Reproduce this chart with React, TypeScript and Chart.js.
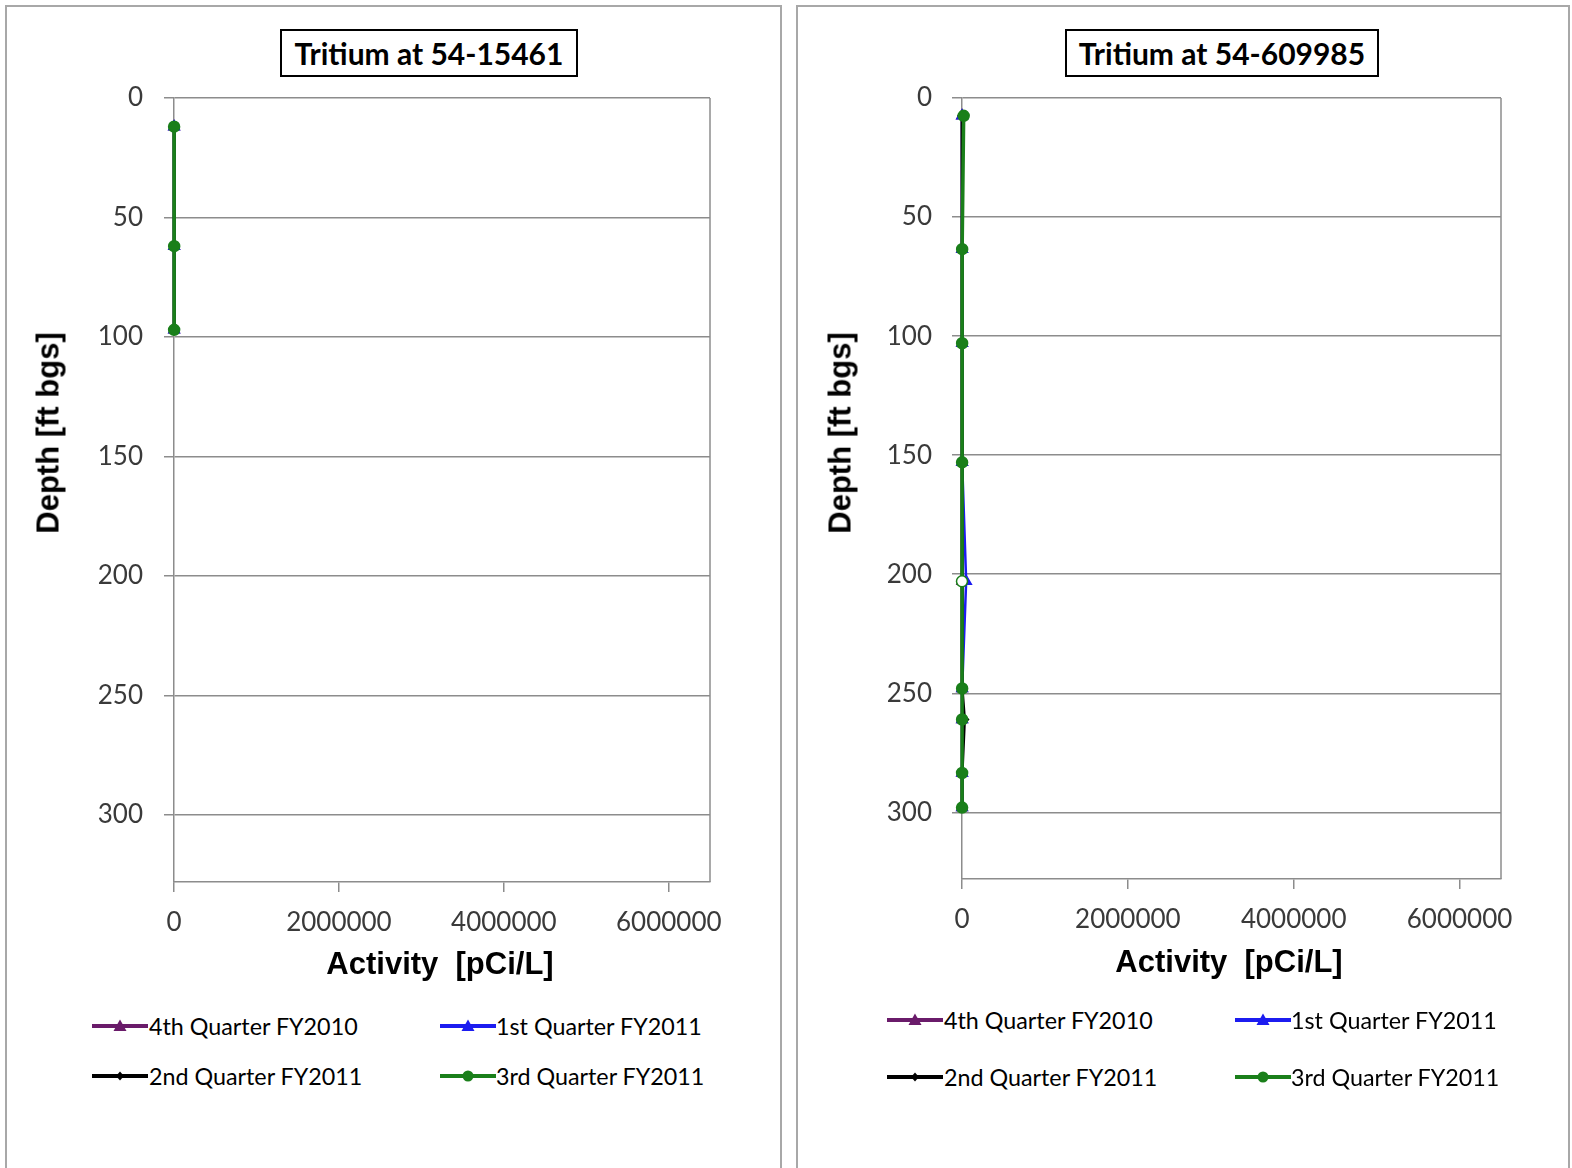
import React, { useEffect, useRef } from "react";
import { Chart, registerables } from "chart.js";

Chart.register(...registerables);

// ---------------- DATA ----------------
const seriesNames = [
  "4th Quarter FY2010",
  "1st Quarter FY2011",
  "2nd Quarter FY2011",
  "3rd Quarter FY2011",
];

// Well 54-15461
const titleA = "Tritium at 54-15461";
const depthA = [12, 62, 97];
const q4fy10A = [1500, 2100, 1800];
const q1fy11A = [1400, 2300, 1700];
const q2fy11A = [1600, 2000, 1900];
const q3fy11A = [1300, 2200, 1600];

// Well 54-609985
const titleB = "Tritium at 54-609985";
const depthB = [7.5, 63.5, 103, 153, 203, 248, 261, 283.5, 298];
const q4fy10B = [1000, 1200, 1500, 1400, 2000, 1800, 1600, 1300, 1100];
const q1fy11B = [1000, 1500, 1800, 2000, 50000, 2000, 1700, 1500, 1200];
const q2fy11B = [1200, 1300, 1600, 1500, 2500, 2200, 30000, 1400, 1000];
const q3fy11B = [20000, 1800, 1500, 1200, 0, 1600, 1400, 1200, 1000];
const openMarkerDepthB = 203; // 3rd quarter sample drawn with open marker

const depthTicks = [0, 50, 100, 150, 200, 250, 300];
const activityTicks = [0, 2000000, 4000000, 6000000];
const depthMax = 328;
const activityMax = 6500000;

const xTitle = "Activity  [pCi/L]";
const yTitle = "Depth [ft bgs]";

// ---------------- STYLE ----------------
const gridColor = "#8c8c8c";
const tickFont = "Lato, 'Open Sans', sans-serif";
const titleFont = "'Liberation Sans', Arial, sans-serif";

const seriesStyles = [
  { color: "#6a1b6a", pointStyle: "triangle", radius: 6, width: 3, order: 3 },
  { color: "#1c1cf0", pointStyle: "triangle", radius: 6, width: 2.5, order: 2 },
  { color: "#000000", pointStyle: "rectRot", radius: 4, width: 3, order: 1 },
  { color: "#1a7f1a", pointStyle: "circle", radius: 5.5, width: 3.5, order: 0 },
];

const framePlugin = {
  id: "frame",
  beforeDatasetsDraw(chart: any) {
    const { ctx, chartArea: a } = chart;
    ctx.save();
    ctx.strokeStyle = gridColor;
    ctx.lineWidth = 1.5;
    ctx.beginPath();
    ctx.moveTo(a.right, a.top);
    ctx.lineTo(a.right, a.bottom);
    ctx.stroke();
    ctx.restore();
  },
};

type Layout = {
  padLeft: number;
  yWidth: number;
  yTickPad: number;
  padBottom: number;
  xHeight: number;
  xTickPad: number;
  padRight: number;
  padTop: number;
};

function makeChart(
  canvas: HTMLCanvasElement,
  depth: number[],
  series: number[][],
  layout: Layout,
  openDepth: number | null
) {
  const datasets = series.map((vals, i) => {
    const st = seriesStyles[i];
    return {
      label: seriesNames[i],
      data: vals.map((v, k) => ({ x: v, y: depth[k] })),
      showLine: true,
      clip: false,
      borderColor: st.color,
      borderWidth: st.width,
      backgroundColor: st.color,
      pointBackgroundColor: (ctx: any) =>
        i === 3 && openDepth !== null && ctx.raw && ctx.raw.y === openDepth ? "#ffffff" : st.color,
      pointBorderColor: st.color,
      pointBorderWidth: 1.5,
      pointStyle: st.pointStyle,
      pointRadius: st.radius,
      order: st.order,
      tension: 0,
    };
  });

  return new Chart(canvas, {
    type: "scatter",
    data: { datasets },
    plugins: [framePlugin],
    options: {
      animation: false,
      responsive: false,
      devicePixelRatio: 1,
      layout: {
        padding: {
          left: layout.padLeft,
          right: layout.padRight,
          top: layout.padTop,
          bottom: layout.padBottom,
        },
      },
      plugins: {
        legend: { display: false },
        tooltip: { enabled: false },
        title: { display: false },
      },
      scales: {
        x: {
          type: "linear",
          position: "bottom",
          min: 0,
          max: activityMax,
          afterBuildTicks: (s: any) => {
            s.ticks = activityTicks.map((v) => ({ value: v }));
          },
          afterFit: (s: any) => {
            s.height = layout.xHeight;
          },
          ticks: {
            includeBounds: false,
            padding: layout.xTickPad,
            color: "#3a3a3a",
            font: { family: tickFont, size: 26 },
            callback: (v: any) => String(v),
            maxRotation: 0,
            autoSkip: false,
          },
          grid: {
            drawOnChartArea: false,
            drawTicks: true,
            tickLength: 10,
            color: gridColor,
            lineWidth: 1.5,
          },
          border: { display: true, color: gridColor, width: 1.5 },
          title: { display: false },
        },
        y: {
          type: "linear",
          position: "left",
          reverse: true,
          min: 0,
          max: depthMax,
          afterBuildTicks: (s: any) => {
            s.ticks = depthTicks.map((v) => ({ value: v }));
          },
          afterFit: (s: any) => {
            s.width = layout.yWidth;
          },
          ticks: {
            includeBounds: false,
            padding: layout.yTickPad,
            color: "#3a3a3a",
            font: { family: tickFont, size: 26 },
            autoSkip: false,
          },
          grid: {
            drawOnChartArea: true,
            drawTicks: true,
            tickLength: 10,
            color: gridColor,
            lineWidth: 1.5,
          },
          border: { display: true, color: gridColor, width: 1.5 },
          title: { display: false },
        },
      },
    } as any,
  });
}

function LegendIcon({ idx }: { idx: number }) {
  const st = seriesStyles[idx];
  let marker: React.ReactNode = null;
  if (st.pointStyle === "triangle") {
    marker = <polygon points="28,1.5 34.5,13 21.5,13" fill={st.color} />;
  } else if (st.pointStyle === "rectRot") {
    marker = <polygon points="28,3.5 32,8 28,12.5 24,8" fill={st.color} />;
  } else {
    marker = <circle cx={28} cy={8} r={5.5} fill={st.color} />;
  }
  return (
    <svg width={56} height={16} style={{ display: "block" }}>
      <line x1={0} y1={8} x2={56} y2={8} stroke={st.color} strokeWidth={4} />
      {marker}
    </svg>
  );
}

function LegendItem({ idx, x, y, textX }: { idx: number; x: number; y: number; textX: number }) {
  return (
    <>
      <div style={{ position: "absolute", left: x, top: y - 8 }}>
        <LegendIcon idx={idx} />
      </div>
      <div
        style={{
          position: "absolute",
          left: textX,
          top: y - 15,
          height: 30,
          lineHeight: "30px",
          fontFamily: tickFont,
          fontSize: 23.3,
          color: "#000",
          whiteSpace: "nowrap",
        }}
      >
        {seriesNames[idx]}
      </div>
    </>
  );
}

function AxisTitle({ x, y, text, vertical }: { x: number; y: number; text: string; vertical: boolean }) {
  return (
    <div style={{ position: "absolute", left: x, top: y, width: 0, height: 0 }}>
      <div
        style={{
          position: "absolute",
          left: 0,
          top: 0,
          transform: vertical ? "translate(-50%, -50%) rotate(-90deg)" : "translate(-50%, -50%)",
          fontFamily: titleFont,
          fontWeight: "bold",
          fontSize: 31,
          lineHeight: "31px",
          color: "#000",
          whiteSpace: "pre",
        }}
      >
        {text}
      </div>
    </div>
  );
}

function ChartCanvas({
  left,
  depth,
  series,
  layout,
  openDepth,
}: {
  left: number;
  depth: number[];
  series: number[][];
  layout: Layout;
  openDepth: number | null;
}) {
  const ref = useRef<HTMLCanvasElement>(null);
  useEffect(() => {
    if (!ref.current) return;
    const c = makeChart(ref.current, depth, series, layout, openDepth);
    return () => c.destroy();
  }, []);
  return (
    <canvas
      ref={ref}
      width={770}
      height={990}
      style={{ position: "absolute", left, top: 8, width: 770, height: 990 }}
    />
  );
}

function TitleBox({ x, y, w, h, text }: { x: number; y: number; w: number; h: number; text: string }) {
  return (
    <div
      style={{
        position: "absolute",
        left: x,
        top: y,
        width: w,
        height: h,
        boxSizing: "border-box",
        border: "2px solid #000",
        background: "#fff",
        display: "flex",
        alignItems: "center",
        justifyContent: "center",
        fontFamily: tickFont,
        fontWeight: "bold",
        fontSize: 30,
        color: "#000",
        whiteSpace: "nowrap",
      }}
    >
      {text}
    </div>
  );
}

export default function App() {
  const layoutA: Layout = {
    padLeft: 22,
    yWidth: 144,
    yTickPad: 21,
    padBottom: 56,
    xHeight: 60,
    xTickPad: 15,
    padRight: 68,
    padTop: 90,
  };
  const layoutB: Layout = {
    padLeft: 24,
    yWidth: 140,
    yTickPad: 20,
    padBottom: 59,
    xHeight: 60,
    xTickPad: 15,
    padRight: 67,
    padTop: 90,
  };
  return (
    <div
      style={{
        position: "absolute",
        left: 0,
        top: 0,
        width: 1572,
        height: 1168,
        background: "#fff",
        overflow: "hidden",
      }}
    >
      <div
        style={{
          position: "absolute",
          left: 5,
          top: 5,
          width: 777,
          height: 1200,
          boxSizing: "border-box",
          border: "2px solid #a8a8a8",
        }}
      />
      <div
        style={{
          position: "absolute",
          left: 796,
          top: 5,
          width: 774,
          height: 1200,
          boxSizing: "border-box",
          border: "2px solid #a8a8a8",
        }}
      />
      <ChartCanvas
        left={8}
        depth={depthA}
        series={[q4fy10A, q1fy11A, q2fy11A, q3fy11A]}
        layout={layoutA}
        openDepth={null}
      />
      <ChartCanvas
        left={798}
        depth={depthB}
        series={[q4fy10B, q1fy11B, q2fy11B, q3fy11B]}
        layout={layoutB}
        openDepth={openMarkerDepthB}
      />
      <TitleBox x={280} y={29} w={298} h={48} text={titleA} />
      <TitleBox x={1065} y={29} w={314} h={48} text={titleB} />

      <AxisTitle x={48} y={433} text={yTitle} vertical={true} />
      <AxisTitle x={840} y={433} text={yTitle} vertical={true} />
      <AxisTitle x={440} y={963} text={xTitle} vertical={false} />
      <AxisTitle x={1229} y={961} text={xTitle} vertical={false} />

      <LegendItem idx={0} x={92} y={1026} textX={149} />
      <LegendItem idx={1} x={440} y={1026} textX={496} />
      <LegendItem idx={2} x={92} y={1076} textX={149} />
      <LegendItem idx={3} x={440} y={1076} textX={496} />

      <LegendItem idx={0} x={887} y={1020} textX={944} />
      <LegendItem idx={1} x={1235} y={1020} textX={1291} />
      <LegendItem idx={2} x={887} y={1077} textX={944} />
      <LegendItem idx={3} x={1235} y={1077} textX={1291} />
    </div>
  );
}
